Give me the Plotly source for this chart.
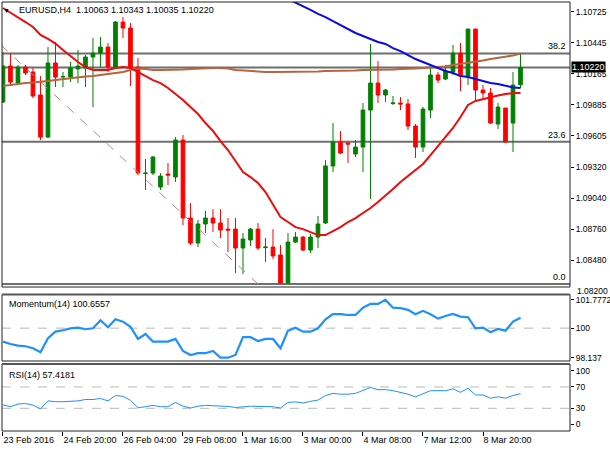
import plotly.graph_objects as go

# ---------------- data ----------------
bar_index = list(range(70))

open_ = [1.09908, 1.10233, 1.10079, 1.10224, 1.10179, 1.09971, 1.09591, 1.10260, 1.10133, 1.10133,
         1.10206, 1.10215, 1.10314, 1.10350, 1.10404, 1.10215, 1.10630, 1.10576, 1.10224, 1.09262,
         1.09266, 1.09140, 1.09257, 1.09230, 1.09564, 1.08860, 1.08634, 1.08806, 1.08860, 1.08815,
         1.08760, 1.08760, 1.08589, 1.08661, 1.08760, 1.08593, 1.08598, 1.08526, 1.08273, 1.08643,
         1.08688, 1.08571, 1.08688, 1.08815, 1.09330, 1.09546, 1.09537, 1.09438, 1.09501, 1.09835,
         1.10079, 1.09971, 1.09894, 1.09899, 1.09890, 1.09691, 1.09501, 1.09835, 1.10152, 1.10115,
         1.10179, 1.10350, 1.10142, 1.10567, 1.10016, 1.09989, 1.09709, 1.09853, 1.09718, 1.10063]
high = [1.10359, 1.10350, 1.10242, 1.10242, 1.10215, 1.10142, 1.10404, 1.10450, 1.10179, 1.10269,
        1.10377, 1.10332, 1.10486, 1.10495, 1.10441, 1.10639, 1.10675, 1.10621, 1.10305, 1.09393,
        1.09420, 1.09266, 1.09357, 1.09591, 1.09610, 1.08995, 1.08842, 1.08923, 1.08941, 1.08941,
        1.08860, 1.08860, 1.08724, 1.08770, 1.08815, 1.08679, 1.08760, 1.08616, 1.08724, 1.08733,
        1.08697, 1.08715, 1.08878, 1.09384, 1.09718, 1.09646, 1.09546, 1.09564, 1.09899, 1.10432,
        1.10278, 1.10025, 1.09962, 1.09953, 1.09935, 1.09709, 1.09862, 1.10242, 1.10179, 1.10242,
        1.10423, 1.10441, 1.10567, 1.10567, 1.10061, 1.10034, 1.09899, 1.09853, 1.10179, 1.10343]
low = [1.09899, 1.10061, 1.10061, 1.10152, 1.09944, 1.09564, 1.09582, 1.10043, 1.10043, 1.10088,
       1.10079, 1.10043, 1.09862, 1.10224, 1.10179, 1.10206, 1.10486, 1.10052, 1.09248, 1.09113,
       1.09248, 1.09113, 1.09158, 1.09185, 1.08797, 1.08616, 1.08598, 1.08724, 1.08733, 1.08679,
       1.08553, 1.08363, 1.08354, 1.08607, 1.08571, 1.08462, 1.08490, 1.08264, 1.08264, 1.08634,
       1.08562, 1.08544, 1.08589, 1.08806, 1.09275, 1.09438, 1.09357, 1.09411, 1.09275, 1.09031,
       1.09899, 1.09908, 1.09881, 1.09835, 1.09655, 1.09402, 1.09456, 1.09763, 1.10079, 1.10106,
       1.10152, 1.10007, 1.10061, 1.09926, 1.09944, 1.09709, 1.09664, 1.09546, 1.09456, 1.10035]
close = [1.10233, 1.10088, 1.10224, 1.10170, 1.09962, 1.09591, 1.10260, 1.10133, 1.10138, 1.10215,
         1.10233, 1.10314, 1.10350, 1.10404, 1.10224, 1.10630, 1.10576, 1.10224, 1.09266, 1.09266,
         1.09411, 1.09239, 1.09248, 1.09564, 1.08860, 1.08634, 1.08806, 1.08860, 1.08815, 1.08751,
         1.08751, 1.08589, 1.08670, 1.08760, 1.08589, 1.08598, 1.08517, 1.08273, 1.08643, 1.08688,
         1.08571, 1.08688, 1.08806, 1.09330, 1.09546, 1.09447, 1.09528, 1.09501, 1.09835, 1.10079,
         1.09971, 1.10016, 1.09899, 1.09890, 1.09691, 1.09501, 1.09844, 1.10152, 1.10106, 1.10188,
         1.10350, 1.10142, 1.10567, 1.10016, 1.09989, 1.09718, 1.09862, 1.09546, 1.10061, 1.10220]

ma_red = [1.10757, 1.10716, 1.10675, 1.10630, 1.10585, 1.10513, 1.10477, 1.10436, 1.10377, 1.10323,
          1.10269, 1.10224, 1.10197, 1.10197, 1.10197, 1.10215, 1.10224, 1.10215, 1.10179, 1.10142,
          1.10106, 1.10079, 1.10034, 1.09980, 1.09926, 1.09862, 1.09799, 1.09718, 1.09646, 1.09555,
          1.09474, 1.09375, 1.09275, 1.09230, 1.09176, 1.09095, 1.08977, 1.08869, 1.08824, 1.08778,
          1.08760, 1.08733, 1.08706, 1.08706, 1.08742, 1.08778, 1.08824, 1.08860, 1.08905, 1.08950,
          1.09004, 1.09059, 1.09122, 1.09185, 1.09239, 1.09293, 1.09348, 1.09429, 1.09510, 1.09591,
          1.09673, 1.09772, 1.09881, 1.09917, 1.09935, 1.09953, 1.09966, 1.09980, 1.09989, 1.09989]

ma_blue_bars = list(range(38, 70))
ma_blue = [1.10838, 1.10806, 1.10775, 1.10739, 1.10703, 1.10675, 1.10639, 1.10603, 1.10567, 1.10531,
           1.10504, 1.10477, 1.10450, 1.10432, 1.10395, 1.10368, 1.10332, 1.10296, 1.10269, 1.10242,
           1.10215, 1.10188, 1.10170, 1.10142, 1.10133, 1.10115, 1.10097, 1.10079, 1.10070, 1.10052,
           1.10039, 1.10034]

ma_brown = [1.10052, 1.10061, 1.10075, 1.10079, 1.10084, 1.10088, 1.10097, 1.10106, 1.10115, 1.10124,
            1.10133, 1.10138, 1.10142, 1.10152, 1.10161, 1.10170, 1.10179, 1.10197, 1.10210, 1.10206,
            1.10197, 1.10197, 1.10197, 1.10197, 1.10201, 1.10206, 1.10210, 1.10215, 1.10215, 1.10215,
            1.10210, 1.10197, 1.10192, 1.10188, 1.10183, 1.10179, 1.10179, 1.10179, 1.10179, 1.10179,
            1.10179, 1.10179, 1.10183, 1.10188, 1.10188, 1.10188, 1.10192, 1.10192, 1.10197, 1.10197,
            1.10197, 1.10201, 1.10201, 1.10206, 1.10206, 1.10210, 1.10215, 1.10219, 1.10224, 1.10228,
            1.10242, 1.10251, 1.10260, 1.10269, 1.10283, 1.10296, 1.10305, 1.10314, 1.10328, 1.10346]

momentum = [99.15, 99.00, 98.90, 98.86, 98.73, 98.48, 99.36, 99.78, 99.87, 99.99,
            100.03, 99.93, 99.99, 100.50, 100.06, 100.56, 100.41, 100.09, 99.32, 99.63,
            99.15, 99.15, 99.15, 99.32, 98.56, 98.31, 98.42, 98.42, 98.56, 98.14,
            98.14, 98.31, 99.43, 99.43, 99.19, 99.32, 99.32, 98.73, 99.84, 100.03,
            99.78, 99.78, 99.99, 100.56, 100.88, 100.88, 100.83, 100.83, 101.29, 101.53,
            101.53, 101.78, 101.29, 101.26, 101.15, 100.88, 101.09, 100.88, 100.60, 100.77,
            100.90, 100.73, 100.69, 99.99, 100.03, 99.74, 99.95, 99.84, 100.41, 100.66]

rsi = [36.4, 33.0, 38.0, 39.0, 36.0, 29.0, 43.9, 42.4, 42.4, 43.5,
       43.9, 46.5, 46.5, 48.4, 43.9, 54.0, 52.5, 45.0, 31.0, 33.0,
       35.5, 33.0, 33.0, 41.0, 34.0, 30.5, 34.0, 35.5, 35.0, 34.0,
       33.5, 31.5, 33.0, 34.0, 33.5, 33.5, 33.0, 30.5, 41.0, 42.0,
       40.0, 43.0, 45.4, 54.0, 58.0, 56.5, 56.5, 58.0, 63.0, 69.0,
       65.0, 65.0, 63.0, 60.0, 56.5, 51.5, 58.0, 63.0, 63.0, 63.0,
       66.5, 60.0, 67.5, 55.0, 55.0, 49.0, 51.5, 49.0, 54.0, 57.42]

fib_names = ["0.0", "23.6", "38.2"]
fib_prices = [1.08264, 1.09549, 1.10346]
fib_trend_bars = [-2, 34]
fib_trend_prices = [1.10531, 1.08264]
last_price = 1.10220
header = "EURUSD,H4\u00a0\u00a01.10063 1.10343 1.10035 1.10220"

price_ticks = [1.10725, 1.10445, 1.10165, 1.09885, 1.09605, 1.09320, 1.09040, 1.08760, 1.08480]
price_tick_below = 1.08200
mom_ticks = [98.137, 100, 101.7772]
mom_tick_text = ["98.137", "100", "101.7772"]
rsi_ticks = [0, 30, 70, 100]
rsi_levels = [30, 70]
x_tick_bars = [0, 8, 16, 24, 32, 40, 48, 56, 64]
x_tick_labels = ["23 Feb 2016", "24 Feb 20:00", "26 Feb 04:00", "29 Feb 08:00", "1 Mar 16:00",
                 "3 Mar 00:00", "4 Mar 08:00", "7 Mar 12:00", "8 Mar 20:00"]

# ---------------- layout geometry ----------------
W, H = 610, 450
ML, MR, MT, MB = 2, 40, 2, 19
PH = H - MT - MB
PW = W - ML - MR


def py(y_px):
    return (H - MB - y_px) / PH


def px(x_px):
    return (x_px - ML) / PW


main_dom = [py(287), 1.0]
mom_dom = [py(361), py(294.5)]
rsi_dom = [0.0, py(364)]

FONT = "Liberation Sans"
GREEN = "#008000"
RED = "#ff0000"

fig = go.Figure()

fig.add_trace(go.Scatter(x=fib_trend_bars, y=fib_trend_prices, mode="lines",
                         line=dict(color="#c98080", width=1, dash="dash"),
                         xaxis="x", yaxis="y", hoverinfo="skip"))
fig.add_trace(go.Scatter(x=bar_index, y=ma_brown, mode="lines",
                         line=dict(color="#b8643c", width=2), xaxis="x", yaxis="y"))
fig.add_trace(go.Candlestick(x=bar_index, open=open_, high=high, low=low, close=close,
                             increasing=dict(line=dict(color=GREEN, width=1), fillcolor=GREEN),
                             decreasing=dict(line=dict(color=RED, width=1), fillcolor=RED),
                             xaxis="x", yaxis="y"))
fig.add_trace(go.Scatter(x=bar_index, y=ma_red, mode="lines",
                         line=dict(color="#f00a0a", width=2), xaxis="x", yaxis="y"))
fig.add_trace(go.Scatter(x=ma_blue_bars, y=ma_blue, mode="lines",
                         line=dict(color="#0a0ae6", width=2), xaxis="x", yaxis="y"))

fig.add_trace(go.Scatter(x=bar_index, y=momentum, mode="lines",
                         line=dict(color="#1e90ff", width=2.2), xaxis="x", yaxis="y2"))
fig.add_trace(go.Scatter(x=bar_index, y=rsi, mode="lines",
                         line=dict(color="#1e90ff", width=1), xaxis="x", yaxis="y3"))

shapes = []
for p in fib_prices:
    shapes.append(dict(type="line", xref="paper", x0=0, x1=1, yref="y", y0=p, y1=p,
                       line=dict(color="#6e6e6e", width=2), layer="below"))
shapes.append(dict(type="line", xref="paper", x0=0, x1=1, yref="y", y0=last_price, y1=last_price,
                   line=dict(color="#6e6e6e", width=2), layer="below"))
shapes.append(dict(type="line", xref="paper", x0=0, x1=1, yref="y2", y0=100, y1=100,
                   line=dict(color="#b8b8b8", width=1, dash="dash"), layer="below"))
for lv in rsi_levels:
    shapes.append(dict(type="line", xref="paper", x0=0, x1=1, yref="y3", y0=lv, y1=lv,
                       line=dict(color="#b8b8b8", width=1, dash="dash"), layer="below"))
for dom in (main_dom, mom_dom, rsi_dom):
    shapes.append(dict(type="rect", xref="paper", yref="paper", x0=0, x1=1, y0=dom[0], y1=dom[1],
                       line=dict(color="#222222", width=1), fillcolor="rgba(0,0,0,0)"))
for dom in (mom_dom, rsi_dom):
    shapes.append(dict(type="line", xref="paper", yref="paper", x0=0, x1=1, y0=dom[1], y1=dom[1],
                       line=dict(color="#555555", width=2)))

annotations = [
    dict(text="▼", xref="paper", yref="paper", x=px(6.5), y=py(10), xanchor="center",
         yanchor="middle", showarrow=False, font=dict(family=FONT, size=7, color="black")),
    dict(text=header, xref="paper", yref="paper", x=px(17), y=py(10), xanchor="left",
         yanchor="middle", showarrow=False, font=dict(family=FONT, size=9, color="black")),
    dict(text="Momentum(14) 100.6557", xref="paper", yref="paper", x=px(7), y=py(303.5),
         xanchor="left", yanchor="middle", showarrow=False,
         font=dict(family=FONT, size=9, color="black")),
    dict(text="RSI(14) 57.4181", xref="paper", yref="paper", x=px(7), y=py(374.5),
         xanchor="left", yanchor="middle", showarrow=False,
         font=dict(family=FONT, size=9, color="black")),
    dict(text=f"{last_price:.5f}", xref="paper", yref="y", x=1, xshift=1, y=last_price,
         xanchor="left", yanchor="middle", showarrow=False, bgcolor="black", borderpad=0,
         font=dict(family=FONT, size=9, color="white")),
    dict(text=f"{price_tick_below:.5f}", xref="paper", yref="paper", x=1, xshift=5, y=py(291),
         xanchor="left", yanchor="middle", showarrow=False,
         font=dict(family=FONT, size=8.5, color="black")),
]
for name, p in zip(fib_names, fib_prices):
    annotations.append(dict(text=name, xref="paper", yref="y", x=1, xshift=-2, y=p,
                            xanchor="right", yanchor="bottom", showarrow=False,
                            font=dict(family=FONT, size=9, color="black")))

yax_common = dict(anchor="x", side="right", showgrid=False, zeroline=False, showline=False,
                  automargin=False, tickmode="array", ticks="outside", ticklen=3,
                  tickcolor="black", tickfont=dict(family=FONT, size=8.5, color="black"))

fig.update_layout(
    width=W, height=H, margin=dict(l=ML, r=MR, t=MT, b=MB, autoexpand=False),
    paper_bgcolor="white", plot_bgcolor="white", showlegend=False,
    font=dict(family=FONT, size=9, color="black"),
    shapes=shapes, annotations=annotations,
    xaxis=dict(domain=[0, 1], anchor="y3", range=[-0.13, 75.6], rangeslider=dict(visible=False),
               showgrid=False, zeroline=False, showline=False, automargin=False,
               tickmode="array", tickvals=x_tick_bars, ticktext=x_tick_labels, tickangle=0,
               ticks="outside", ticklen=4, tickcolor="black", ticklabelposition="outside right",
               tickfont=dict(family=FONT, size=9, color="black")),
    yaxis=dict(domain=main_dom, range=[1.08237, 1.10811], tickvals=price_ticks,
               ticktext=[f"{v:.5f}" for v in price_ticks], **yax_common),
    yaxis2=dict(domain=mom_dom, range=[97.93, 102.12], tickvals=mom_ticks,
                ticktext=mom_tick_text, **yax_common),
    yaxis3=dict(domain=rsi_dom, range=[-12.5, 113], tickvals=rsi_ticks,
                ticktext=[str(v) for v in rsi_ticks], **yax_common),
)

fig.write_html("out.html", config={"displayModeBar": False},
               post_script="document.body.style.margin='0px';document.body.style.overflow='hidden';")
